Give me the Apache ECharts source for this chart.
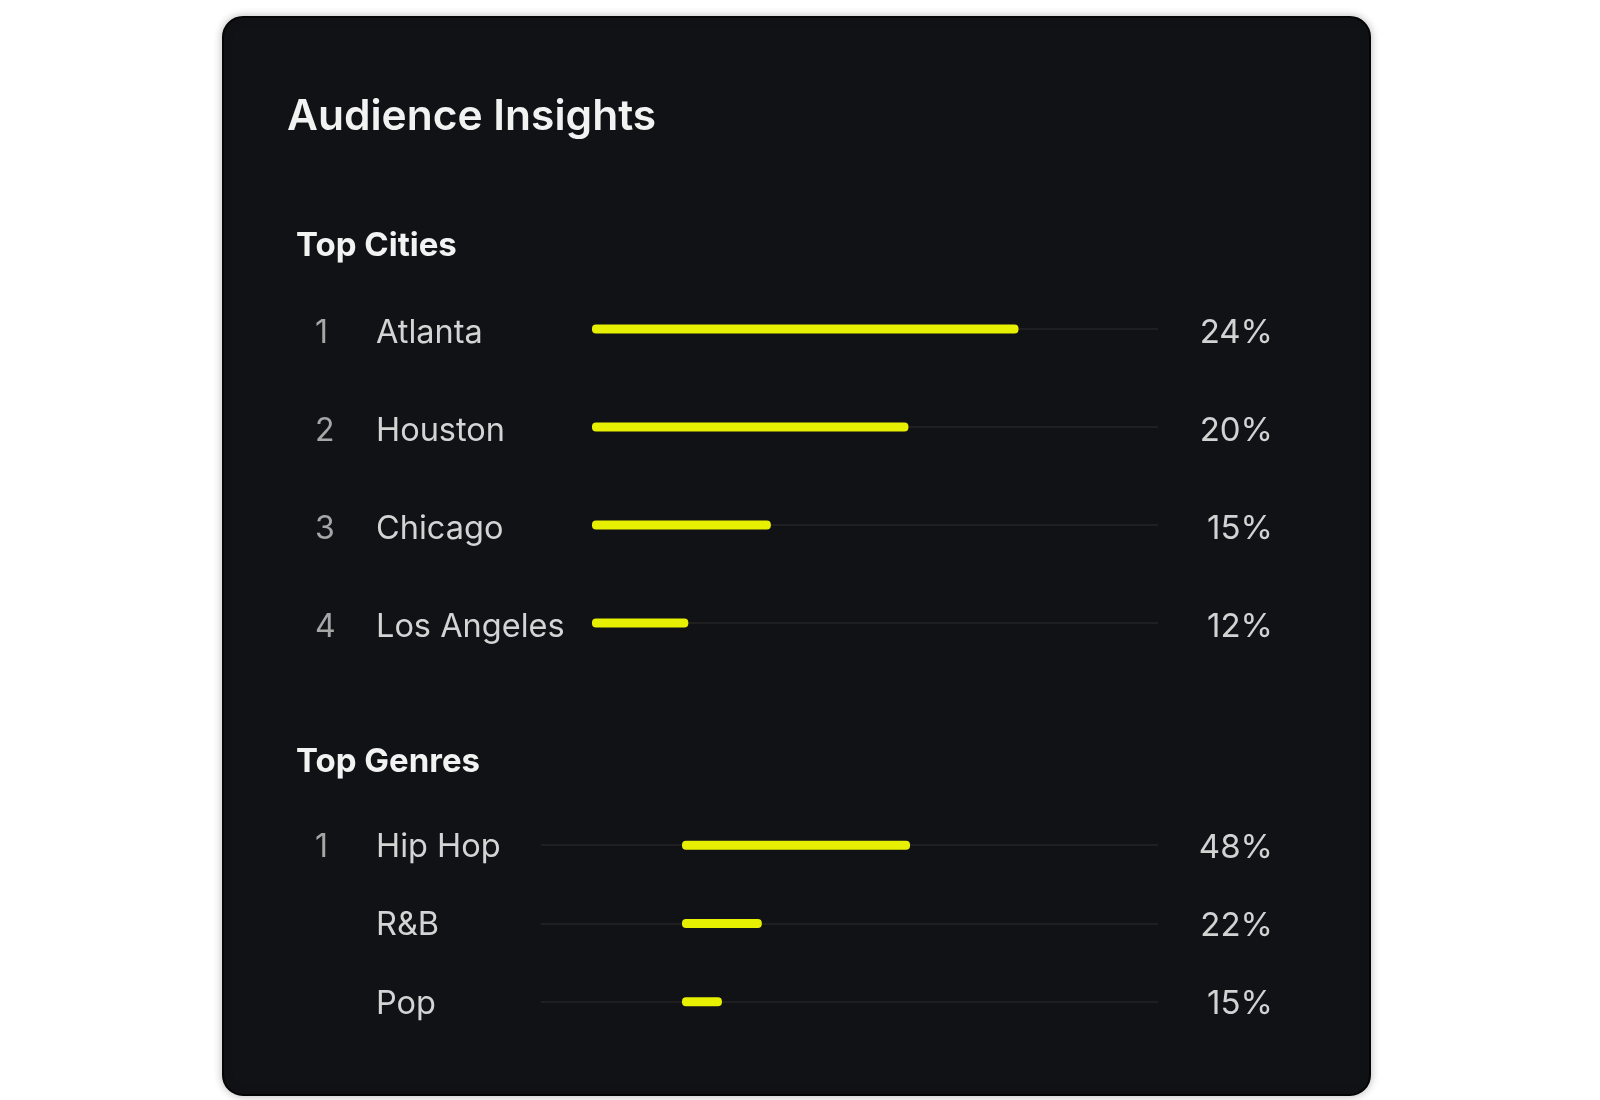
<!DOCTYPE html>
<html>
<head>
<meta charset="utf-8">
<title>Audience Insights</title>
<script src="https://cdn.jsdelivr.net/npm/echarts@6/dist/echarts.min.js"></script>
<style>
  html, body { margin: 0; padding: 0; background: #ffffff; }
  #chart { width: 1600px; height: 1100px; }
</style>
</head>
<body>
<div id="chart"></div>
<script>
// data
const cityRank = ['1', '2', '3', '4']
const cityNames = ['Atlanta', 'Houston', 'Chicago', 'Los Angeles']
const cityShare = [24, 20, 15, 12]

const genreRank = ['1', '', '']
const genreNames = ['Hip Hop', 'R&B', 'Pop']
const genreShare = [48, 22, 15]

const FONT = 'Inter, "Noto Sans", sans-serif'
const YELLOW = '#e6f000'

// the rows of a list: rank + name on the left
function nameLabel(ranks, margin, drop) {
  return {
    show: true,
    align: 'left',
    margin: margin,
    formatter: function (value, index) {
      return '{rank|' + ranks[index] + '}{name|' + value + '}'
    },
    rich: {
      rank: { width: 61, align: 'left', color: '#a6a6a6', fontSize: 32, fontFamily: FONT, padding: [drop, 0, 0, 0] },
      name: { color: '#d4d4d4', fontSize: 32.5, fontFamily: FONT, padding: [drop, 0, 0, 0] }
    }
  }
}

// percent text on the right
function shareLabel(shares, drop) {
  return {
    show: true,
    align: 'right',
    margin: 115,
    formatter: function (value, index) {
      return '{p|' + shares[index] + '%}'
    },
    rich: {
      p: { color: '#d2d2d2', fontSize: 33, fontFamily: FONT, padding: [drop, 0, 0, 0] }
    }
  }
}

const hidden = { show: false }
const trackLine = { show: true, lineStyle: { color: 'rgba(255,255,255,0.06)', width: 2 } }

// a grid that only carries the faint track lines, one per row
function trackAxis(grid, names) {
  return {
    type: 'category', gridIndex: grid, data: names, inverse: true, boundaryGap: false,
    axisLine: hidden, axisTick: hidden, axisLabel: hidden, splitLine: trackLine
  }
}

const myChart = echarts.init(document.getElementById('chart'))
const option = {
  backgroundColor: '#ffffff',
  animation: false,
  graphic: [
    {
      type: 'rect',
      z: -10,
      shape: { x: 223, y: 17, width: 1147, height: 1078, r: 20 },
      style: {
        fill: '#111215',
        stroke: '#050505',
        lineWidth: 2,
        shadowBlur: 8,
        shadowColor: 'rgba(0,0,0,0.25)'
      }
    }
  ],
  title: [
    {
      text: 'Audience Insights',
      left: 287, top: 96, padding: 0,
      textStyle: { color: '#f2f2f2', fontSize: 42.5, fontWeight: 600, fontFamily: FONT }
    },
    {
      text: 'Top Cities',
      left: 296, top: 230, padding: 0,
      textStyle: { color: '#f2f2f2', fontSize: 33, fontWeight: 700, fontFamily: FONT }
    },
    {
      text: 'Top Genres',
      left: 296, top: 746, padding: 0,
      textStyle: { color: '#f2f2f2', fontSize: 33, fontWeight: 700, fontFamily: FONT }
    }
  ],
  grid: [
    // cities bars
    { left: 592, width: 566, top: 280, height: 392, outerBoundsMode: 'none' },
    // cities track
    { left: 592, width: 566, top: 329, height: 294, outerBoundsMode: 'none' },
    // genre track
    { left: 541, width: 617, top: 845, height: 157, outerBoundsMode: 'none' },
    // genre bars
    { left: 682, width: 476, top: 806, height: 235, outerBoundsMode: 'none' }
  ],
  xAxis: [
    { type: 'value', gridIndex: 0, min: 8.5, max: 29.07, show: false },
    { type: 'value', gridIndex: 1, min: 0, max: 1, show: false },
    { type: 'value', gridIndex: 2, min: 0, max: 1, show: false },
    { type: 'value', gridIndex: 3, min: 8, max: 91.5, show: false }
  ],
  yAxis: [
    {
      type: 'category', gridIndex: 0, data: cityNames, inverse: true,
      axisLine: hidden, axisTick: hidden, splitLine: hidden,
      axisLabel: nameLabel(cityRank, 277, 8)
    },
    {
      type: 'category', gridIndex: 0, data: cityNames, inverse: true,
      position: 'right', axisLine: hidden, axisTick: hidden, splitLine: hidden,
      axisLabel: shareLabel(cityShare, 9)
    },
    trackAxis(1, cityNames),
    trackAxis(2, genreNames),
    {
      type: 'category', gridIndex: 3, data: genreNames, inverse: true,
      axisLine: hidden, axisTick: hidden, splitLine: hidden,
      axisLabel: nameLabel(genreRank, 367, 4)
    },
    {
      type: 'category', gridIndex: 3, data: genreNames, inverse: true,
      position: 'right', axisLine: hidden, axisTick: hidden, splitLine: hidden,
      axisLabel: shareLabel(genreShare, 5)
    }
  ],
  series: [
    {
      name: 'Top Cities',
      type: 'bar',
      xAxisIndex: 0, yAxisIndex: 0,
      data: cityShare,
      barWidth: 9,
      itemStyle: { color: YELLOW, borderRadius: 4 }
    },
    {
      name: 'Top Genres',
      type: 'bar',
      xAxisIndex: 3, yAxisIndex: 4,
      data: genreShare,
      barWidth: 9,
      itemStyle: { color: YELLOW, borderRadius: 4 }
    }
  ]
}
myChart.setOption(option)

window.onresize = function () {
  myChart.resize()
}
</script>
</body>
</html>
